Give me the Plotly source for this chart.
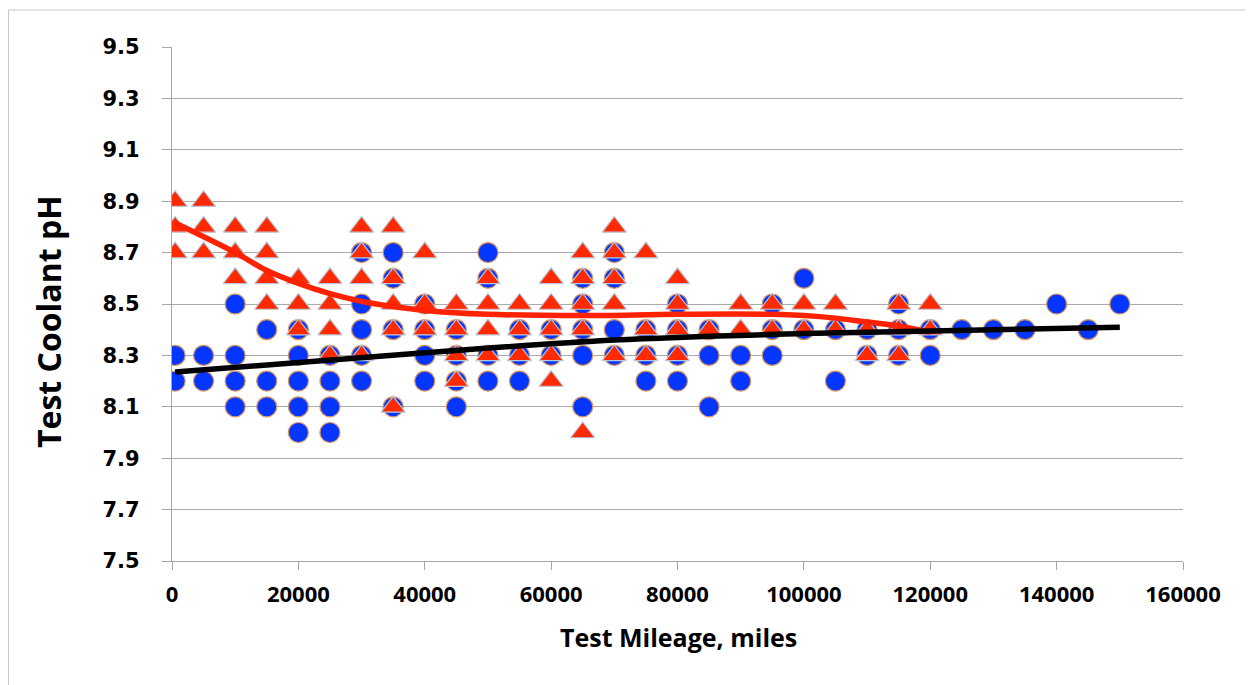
import plotly.graph_objects as go

# ---- data ----
circle_x = [500, 500, 5000, 5000,
            10000, 10000, 10000, 10000,
            15000, 15000, 15000,
            20000, 20000, 20000, 20000, 20000,
            25000, 25000, 25000, 25000,
            30000, 30000, 30000, 30000, 30000,
            35000, 35000, 35000, 35000,
            40000, 40000, 40000, 40000,
            45000, 45000, 45000, 45000,
            50000, 50000, 50000, 50000,
            55000, 55000, 55000,
            60000, 60000,
            65000, 65000, 65000, 65000, 65000,
            70000, 70000, 70000, 70000,
            75000, 75000, 75000,
            80000, 80000, 80000, 80000,
            85000, 85000, 85000,
            90000, 90000,
            95000, 95000, 95000,
            100000, 100000,
            105000, 105000,
            110000, 110000,
            115000, 115000, 115000,
            120000, 120000,
            125000, 130000, 135000, 140000, 145000, 150000]
circle_y = [8.3, 8.2, 8.3, 8.2,
            8.5, 8.3, 8.2, 8.1,
            8.4, 8.2, 8.1,
            8.4, 8.3, 8.2, 8.1, 8.0,
            8.3, 8.2, 8.1, 8.0,
            8.7, 8.5, 8.4, 8.3, 8.2,
            8.7, 8.6, 8.4, 8.1,
            8.5, 8.4, 8.3, 8.2,
            8.4, 8.3, 8.2, 8.1,
            8.7, 8.6, 8.3, 8.2,
            8.4, 8.3, 8.2,
            8.4, 8.3,
            8.6, 8.5, 8.4, 8.3, 8.1,
            8.7, 8.6, 8.4, 8.3,
            8.4, 8.3, 8.2,
            8.5, 8.4, 8.3, 8.2,
            8.4, 8.3, 8.1,
            8.3, 8.2,
            8.5, 8.4, 8.3,
            8.6, 8.4,
            8.4, 8.2,
            8.4, 8.3,
            8.5, 8.4, 8.3,
            8.4, 8.3,
            8.4, 8.4, 8.4, 8.5, 8.4, 8.5]

tri_x = [500, 500, 500,
         5000, 5000, 5000,
         10000, 10000, 10000,
         15000, 15000, 15000, 15000,
         20000, 20000, 20000,
         25000, 25000, 25000, 25000,
         30000, 30000, 30000, 30000,
         35000, 35000, 35000, 35000, 35000,
         40000, 40000, 40000,
         45000, 45000, 45000, 45000,
         50000, 50000, 50000, 50000,
         55000, 55000, 55000,
         60000, 60000, 60000, 60000, 60000,
         65000, 65000, 65000, 65000, 65000,
         70000, 70000, 70000, 70000, 70000,
         75000, 75000, 75000,
         80000, 80000, 80000, 80000,
         85000,
         90000, 90000,
         95000, 95000,
         100000, 100000,
         105000, 105000,
         110000, 110000,
         115000, 115000, 115000,
         120000, 120000]
tri_y = [8.9, 8.8, 8.7,
         8.9, 8.8, 8.7,
         8.8, 8.7, 8.6,
         8.8, 8.7, 8.6, 8.5,
         8.6, 8.5, 8.4,
         8.6, 8.5, 8.4, 8.3,
         8.8, 8.7, 8.6, 8.3,
         8.8, 8.6, 8.5, 8.4, 8.1,
         8.7, 8.5, 8.4,
         8.5, 8.4, 8.3, 8.2,
         8.6, 8.5, 8.4, 8.3,
         8.5, 8.4, 8.3,
         8.6, 8.5, 8.4, 8.3, 8.2,
         8.7, 8.6, 8.5, 8.4, 8.0,
         8.8, 8.7, 8.6, 8.5, 8.3,
         8.7, 8.4, 8.3,
         8.6, 8.5, 8.4, 8.3,
         8.4,
         8.5, 8.4,
         8.5, 8.4,
         8.5, 8.4,
         8.5, 8.4,
         8.4, 8.3,
         8.5, 8.4, 8.3,
         8.5, 8.4]

# trend lines
red_trend_x = [500, 10000, 15000, 20000, 25000, 30000, 35000, 40000, 50000,
               65000, 80000, 95000, 100000, 105000, 110000, 115000, 120000]
red_trend_y = [8.815, 8.70, 8.63, 8.58, 8.54, 8.51, 8.49, 8.475, 8.46,
               8.455, 8.46, 8.46, 8.455, 8.445, 8.43, 8.415, 8.39]
black_trend_x = [500, 40000, 70000, 100000, 120000, 150000]
black_trend_y = [8.235, 8.31, 8.36, 8.385, 8.395, 8.41]

x_title = "Test Mileage, miles"
y_title = "Test Coolant pH"

FONT = "Open Sans"

fig = go.Figure()
fig.add_trace(go.Scatter(
    x=circle_x, y=circle_y, mode="markers",
    marker=dict(symbol="circle", size=20, color="#0536ff",
                line=dict(color="#d8955f", width=1.2)),
    showlegend=False, hoverinfo="skip"))
fig.add_trace(go.Scatter(
    x=tri_x, y=tri_y, mode="markers",
    marker=dict(symbol="triangle-up", size=21, color="#ff2a00",
                line=dict(color="#bcc6d8", width=1.2)),
    showlegend=False, hoverinfo="skip"))
fig.add_trace(go.Scatter(
    x=red_trend_x, y=red_trend_y, mode="lines",
    line=dict(color="#ff2200", width=5.5, shape="spline", smoothing=1.0),
    showlegend=False, hoverinfo="skip"))
fig.add_trace(go.Scatter(
    x=black_trend_x, y=black_trend_y, mode="lines",
    line=dict(color="#000000", width=5.5, shape="spline", smoothing=1.0),
    showlegend=False, hoverinfo="skip"))

# page body adds an 8px offset, so the figure is sized/margined accordingly
W, H = 1245, 677
L, T = 164, 39
pw, ph = 1011, 514
R, B = W - L - pw, H - T - ph

def fx(px):  # figure pixel -> paper x
    return (px - L) / pw

def fy(py):  # figure pixel (from top) -> paper y
    return (H - B - py) / ph

# partial outer frame (top and left edges)
fig.add_shape(type="line", xref="paper", yref="paper",
              x0=fx(0.5), x1=fx(W), y0=fy(2), y1=fy(2),
              line=dict(color="#c8c8c8", width=1), layer="below")
fig.add_shape(type="line", xref="paper", yref="paper",
              x0=fx(0.5), x1=fx(0.5), y0=fy(2), y1=fy(H),
              line=dict(color="#c8c8c8", width=1), layer="below")

fig.add_annotation(text=y_title, xref="paper", yref="paper",
                   x=fx(40), y=fy(314), textangle=-90, showarrow=False,
                   xanchor="center", yanchor="middle",
                   font=dict(family=FONT, size=32, color="black", weight="bold"))
fig.add_annotation(text=x_title, xref="paper", yref="paper",
                   x=fx(670), y=fy(629), showarrow=False,
                   xanchor="center", yanchor="middle",
                   font=dict(family=FONT, size=25, color="black", weight="bold"))

fig.update_layout(
    width=W, height=H,
    margin=dict(l=L, r=R, t=T, b=B, pad=0),
    paper_bgcolor="white", plot_bgcolor="white",
    font=dict(family=FONT, color="black"),
)
fig.update_xaxes(
    range=[0, 160000], dtick=20000, tick0=0, tickformat="d",
    showgrid=False, zeroline=False,
    showline=True, linecolor="#a6a6a6", linewidth=1.3,
    ticks="outside", ticklen=8, tickcolor="#a6a6a6", tickwidth=1.3,
    tickfont=dict(family=FONT, size=22, color="black", weight="bold"),
    ticklabelstandoff=5,
)
fig.update_yaxes(
    range=[7.5, 9.5], dtick=0.2, tick0=7.5, tickformat=".1f",
    showgrid=True, gridcolor="#aaaaaa", gridwidth=1.3, zeroline=False,
    showline=True, linecolor="#a6a6a6", linewidth=1.3,
    ticks="outside", ticklen=9, tickcolor="#a6a6a6", tickwidth=1.3,
    tickfont=dict(family="DejaVu Sans", size=21, color="black", weight="bold"),
    ticklabelstandoff=18,
)

fig.write_html("out.html")
